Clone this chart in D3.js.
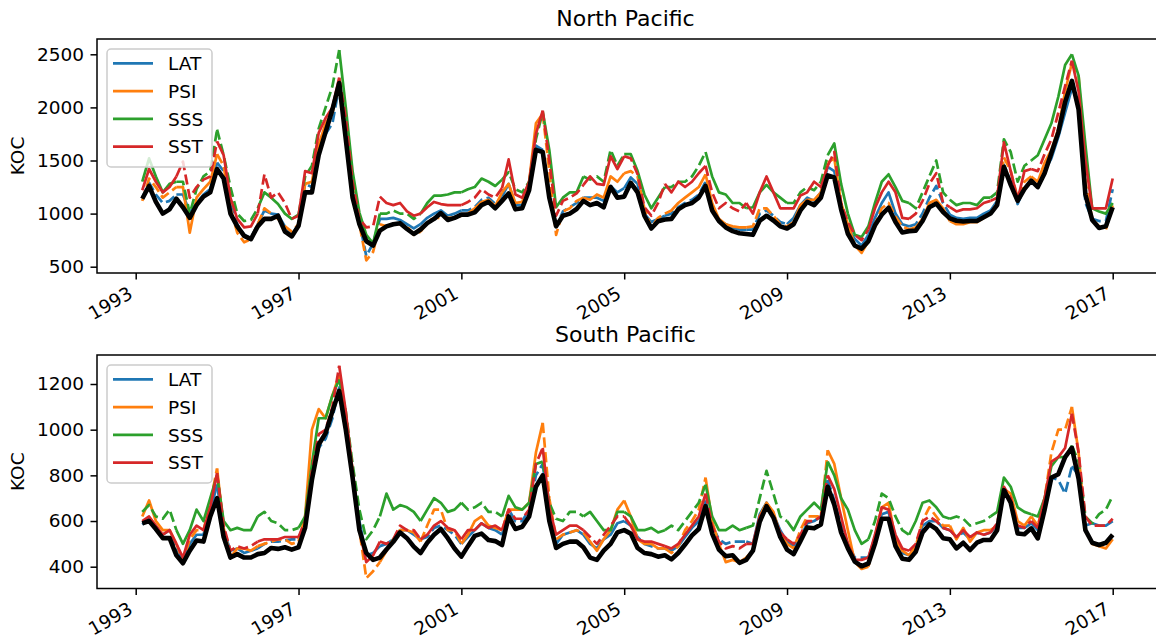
<!DOCTYPE html>
<html>
<head>
<meta charset="utf-8">
<script src="https://cdn.jsdelivr.net/npm/d3@7"></script>
<style>
  body { margin: 0; background: #fff; }
  svg { display: block; font-family: "DejaVu Sans", sans-serif; }
</style>
</head>
<body>
<svg id="chart" width="1156" height="641"></svg>
<script>
// bimonthly samples, Mar 1993 .. Jan 2017 (144 points)
const dates = d3.timeMonth.every(2).range(new Date(1993, 2, 1), new Date(2017, 0, 2));

const yearTicks = [1993, 1997, 2001, 2005, 2009, 2013, 2017];
const northTicks = [500, 1000, 1500, 2000, 2500];
const southTicks = [400, 600, 800, 1000, 1200];
const seriesNames = ['LAT', 'PSI', 'SSS', 'SST'];
const seriesColors = ['#1f77b4', '#ff7f0e', '#2ca02c', '#d62728'];

// North Pacific
const northKOC = [
  1140,1260,1110,1000,1040,1140,1060,960,1080,1160,1200,1420,
  1330,1000,880,790,760,880,950,950,980,830,785,886,
  1200,1200,1550,1770,1980,2230,1700,1150,900,740,700,840,
  880,900,910,855,808,850,910,950,1005,940,960,990,
  990,1012,1080,1110,1050,1120,1190,1040,1050,1220,1600,1580,
  1150,880,980,1000,1043,1120,1080,1100,1060,1250,1150,1160,
  1290,1200,980,860,928,945,950,1040,1080,1100,1150,1260,
  1030,930,870,835,815,808,800,933,980,935,880,860,
  900,1030,1110,1080,1150,1360,1340,1040,810,698,670,740,
  890,990,1055,920,823,835,840,930,1060,1095,1015,955,
  933,925,930,930,965,1000,1080,1440,1270,1120,1230,1310,
  1250,1380,1570,1765,2050,2250,1980,1180,940,865,880,1060
];
const northLAT = [
  1150,1290,1180,1100,1120,1180,1180,1010,1100,1180,1230,1480,
  1400,1080,900,800,770,900,1030,1000,990,880,800,900,
  1280,1250,1600,1750,1850,2200,1750,1200,920,600,720,950,
  950,960,940,900,860,900,960,1000,1030,980,1000,1030,
  1030,1060,1130,1150,1090,1160,1280,1080,1080,1240,1640,1600,
  1180,880,1020,1060,1100,1150,1150,1150,1120,1260,1200,1240,
  1340,1280,1000,920,950,980,1000,1060,1100,1130,1180,1300,
  1060,930,900,870,850,850,850,1000,1030,980,920,900,
  960,1080,1150,1120,1200,1440,1400,1080,860,760,700,800,
  960,1100,1200,1000,900,880,900,1000,1150,1260,1100,990,
  960,950,960,960,1000,1030,1120,1460,1300,1090,1240,1300,
  1260,1400,1520,1720,1950,2180,2050,1100,950,930,930,1230
];
const northPSI = [
  1120,1330,1250,1150,1200,1250,1250,820,1150,1230,1300,1560,
  1450,1050,820,730,760,900,1050,1000,950,880,830,900,
  1280,1300,1650,1850,1950,2250,1800,1250,900,560,640,900,
  880,900,900,880,800,830,920,960,960,960,960,980,
  1000,1050,1110,1130,1070,1200,1280,1100,1110,1300,1850,1940,
  1400,800,1020,1050,1120,1150,1130,1180,1150,1350,1300,1380,
  1400,1350,1050,870,960,1000,1030,1100,1150,1200,1250,1370,
  1100,950,900,880,870,870,880,1050,1050,980,900,880,
  920,1080,1130,1130,1200,1480,1520,1100,900,700,630,740,
  900,1050,1100,970,880,850,870,950,1100,1130,1050,930,
  900,900,920,920,960,1000,1100,1530,1400,1150,1300,1350,
  1300,1480,1600,1800,2150,2420,2300,1300,950,880,850,1080
];
const northSSS = [
  1300,1520,1350,1200,1280,1300,1300,1000,1230,1350,1400,1790,
  1550,1250,1000,930,940,1050,1200,1150,1090,1000,950,990,
  1350,1450,1800,2000,2200,2540,2000,1400,1010,800,720,1000,
  1000,1030,1000,1000,950,1000,1100,1170,1170,1180,1200,1200,
  1230,1250,1330,1300,1260,1320,1390,1230,1200,1300,1700,1960,
  1600,1060,1150,1200,1200,1350,1320,1350,1300,1600,1450,1560,
  1560,1400,1180,1050,1150,1250,1250,1300,1300,1350,1450,1580,
  1350,1200,1180,1100,1100,1050,1060,1200,1270,1200,1150,1100,
  1100,1200,1250,1220,1300,1550,1660,1280,1000,800,780,880,
  1100,1300,1370,1250,1120,1100,1050,1200,1350,1500,1200,1130,
  1080,1100,1100,1080,1150,1150,1200,1700,1580,1300,1450,1500,
  1550,1700,1850,2100,2400,2500,2300,1650,1050,1020,1000,1100
];
const northSST = [
  1220,1420,1300,1200,1250,1350,1490,1150,1250,1320,1350,1680,
  1550,1150,950,870,880,1000,1370,1150,1200,1100,950,980,
  1400,1380,1760,1900,2000,2280,1900,1300,950,870,880,1160,
  1100,1080,1100,1020,980,1000,1060,1110,1090,1080,1080,1080,
  1110,1150,1230,1180,1150,1240,1510,1180,1150,1300,1750,1970,
  1500,980,1120,1150,1190,1270,1350,1280,1270,1540,1420,1540,
  1520,1370,1060,980,1100,1280,1200,1300,1250,1300,1380,1450,
  1200,1050,1100,1050,1020,1100,1000,1200,1350,1200,1050,1050,
  1050,1170,1200,1300,1250,1450,1580,1100,920,800,750,850,
  1050,1200,1300,1200,960,950,1000,1120,1280,1380,1100,1060,
  1020,1040,1040,1050,1100,1120,1150,1670,1400,1130,1400,1420,
  1400,1560,1700,1950,2200,2440,2150,1500,1050,1050,1050,1330
];

// South Pacific
const southKOC = [
  590,600,565,525,525,450,415,470,515,510,620,700,
  530,440,455,440,440,455,460,482,478,485,475,485,
  570,780,935,985,1080,1170,1000,790,560,460,430,440,
  475,509,550,525,488,460,505,540,565,525,480,444,
  490,535,545,517,512,495,620,565,575,620,750,800,
  600,482,500,510,510,485,440,430,470,500,550,560,
  545,482,460,455,444,450,432,460,497,537,565,665,
  545,475,446,450,417,430,470,597,665,615,530,475,
  455,512,572,568,585,750,672,550,480,422,402,414,
  500,610,610,490,435,430,465,550,585,565,525,520,
  480,505,473,505,517,517,560,735,680,545,542,568,
  524,650,790,805,880,920,785,560,505,495,505,540
];
const southLAT = [
  585,610,560,540,560,480,430,500,540,540,640,760,
  560,470,480,460,470,480,500,510,510,515,520,520,
  600,800,920,960,1050,1190,1050,800,600,450,460,490,
  500,520,560,560,540,520,530,570,580,560,540,500,
  530,560,590,570,560,540,650,600,600,650,800,850,
  620,500,540,550,560,540,500,480,520,540,590,600,
  580,530,500,490,480,480,470,490,530,570,600,690,
  580,520,500,510,510,510,500,630,680,630,560,510,
  490,530,590,600,620,780,690,580,500,440,440,440,
  530,630,640,520,460,450,480,580,600,600,570,560,
  530,550,520,550,540,550,580,730,700,570,570,590,
  560,680,790,780,720,840,800,580,590,580,580,600
];
const southPSI = [
  620,690,600,560,560,500,425,520,560,560,680,830,
  570,440,480,480,470,490,500,510,520,520,500,510,
  620,1000,1090,1050,1150,1240,1050,820,560,350,380,420,
  470,520,560,560,550,510,580,650,650,560,560,500,
  540,600,620,580,570,560,650,650,650,680,900,1030,
  700,520,540,550,560,550,510,470,520,560,650,690,
  620,520,500,500,480,480,460,490,560,600,650,790,
  600,500,420,430,420,440,470,620,680,640,540,500,
  480,560,620,620,620,910,850,700,560,420,390,400,
  530,660,680,520,470,450,490,600,660,620,580,580,
  520,570,510,550,560,560,580,740,720,600,580,620,
  580,700,900,1000,1000,1100,900,560,500,490,480,520
];
const southSSS = [
  640,670,620,610,650,560,500,560,650,600,700,800,
  600,560,570,560,560,620,640,600,590,560,560,570,
  620,850,1050,1050,1150,1220,1080,850,650,520,560,620,
  720,650,670,660,640,600,650,700,680,640,650,680,
  650,660,680,640,640,620,710,660,650,680,850,860,
  680,610,600,640,640,620,640,600,560,560,640,640,
  620,560,560,570,550,560,580,560,600,640,680,760,
  620,560,560,580,560,570,580,700,820,720,620,600,
  560,620,650,680,650,860,800,700,650,560,500,520,
  600,720,700,620,560,540,600,680,690,660,620,610,
  620,610,580,590,600,620,640,790,750,660,640,630,
  620,700,840,880,880,930,860,620,590,630,650,710
];
const southSST = [
  600,620,580,540,560,500,440,540,580,560,660,810,
  580,470,490,480,490,510,520,520,520,530,530,530,
  600,820,980,1000,1100,1280,1080,820,560,420,450,510,
  500,520,580,560,560,520,540,580,600,570,560,520,
  560,560,590,570,580,560,650,610,610,650,850,920,
  660,540,560,580,580,560,530,500,540,580,620,620,
  580,520,510,510,500,490,480,500,540,580,620,720,
  580,510,480,490,480,500,500,620,660,620,550,520,
  500,540,600,600,620,800,740,620,500,430,430,440,
  540,660,650,540,480,470,500,600,620,600,570,560,
  530,560,530,550,540,550,590,750,700,580,570,600,
  570,700,860,880,920,1070,900,620,580,580,580,610
];

// years drawn dashed for each model
const northDashLAT = [1993, 1995, 1997, 1998, 2001, 2003, 2006, 2008, 2012, 2014, 2016];
const northDashPSI = [1993, 1995, 1996, 1998, 1999, 2000, 2003, 2005, 2008, 2011, 2014, 2016];
const northDashSSS = [1994, 1995, 1997, 1999, 2002, 2004, 2006, 2009, 2012, 2014];
const northDashSST = [1994, 1996, 1998, 2001, 2003, 2005, 2007, 2010, 2012, 2015];
const southDashLAT = [1993, 1996, 1997, 2000, 2002, 2005, 2007, 2010, 2013, 2015];
const southDashPSI = [1994, 1996, 1998, 2000, 2003, 2006, 2009, 2012, 2015];
const southDashSSS = [1993, 1996, 1998, 2001, 2003, 2006, 2008, 2011, 2013, 2016];
const southDashSST = [1995, 1997, 1999, 2002, 2004, 2007, 2009, 2012, 2014, 2016];

const svg = d3.select('#chart');
const frameLeft = 97;
const frameWidth = 1065; // right edge falls just outside the picture

const x = d3.scaleTime()
  .domain([new Date(1993, 0, 1), new Date(2017, 0, 1)])
  .range([135.7, 1112.7]);

function drawPanel(p) {
  const y = d3.scaleLinear().domain(p.tickDomain).range(p.tickRange);
  const g = svg.append('g');

  // title
  g.append('text')
    .attr('x', frameLeft + frameWidth / 2 - 4)
    .attr('y', p.top - 13)
    .attr('text-anchor', 'middle')
    .attr('font-size', '22px')
    .attr('fill', '#000')
    .text(p.title);

  // y label
  g.append('text')
    .attr('transform', `translate(24,${(p.top + p.bottom) / 2}) rotate(-90)`)
    .attr('text-anchor', 'middle')
    .attr('font-size', '18.5px')
    .text('KOC');

  // lines
  const line = d3.line()
    .x(d => x(dates[d.i]))
    .y(d => y(d.v));

  const yearsPresent = Array.from(new Set(dates.map(d => d.getFullYear())));
  const firstIndex = yr => dates.findIndex(d => d.getFullYear() === yr);

  p.series.forEach((vals, si) => {
    const pts = vals.map((v, i) => ({ i: i, v: v }));
    yearsPresent.forEach((yr, yi) => {
      const a = firstIndex(yr);
      const b = yi + 1 < yearsPresent.length ? firstIndex(yearsPresent[yi + 1]) : pts.length - 1;
      if (b <= a) return;
      const seg = pts.slice(a, b + 1);
      const path = g.append('path')
        .datum(seg)
        .attr('fill', 'none')
        .attr('stroke', seriesColors[si])
        .attr('stroke-width', 2.7)
        .attr('stroke-linejoin', 'round')
        .attr('d', line);
      if (p.dashed[si].includes(yr)) path.attr('stroke-dasharray', '10.3,4.4');
    });
  });

  // observed KOC on top
  g.append('path')
    .datum(p.koc.map((v, i) => ({ i: i, v: v })))
    .attr('fill', 'none')
    .attr('stroke', '#000')
    .attr('stroke-width', 4.6)
    .attr('stroke-linejoin', 'round')
    .attr('d', line);

  // frame
  g.append('rect')
    .attr('x', frameLeft)
    .attr('y', p.top)
    .attr('width', frameWidth)
    .attr('height', p.bottom - p.top)
    .attr('fill', 'none')
    .attr('stroke', '#000')
    .attr('stroke-width', 1.5);

  // x axis, labels rotated 30 degrees
  const xAxis = g.append('g')
    .attr('transform', `translate(0,${p.bottom})`)
    .call(d3.axisBottom(x)
      .tickValues(yearTicks.map(yr => new Date(yr, 0, 1)))
      .tickFormat(d3.timeFormat('%Y'))
      .tickSize(6.5));
  xAxis.select('.domain').remove();
  xAxis.selectAll('line').attr('stroke', '#000').attr('stroke-width', 1.5);
  xAxis.selectAll('text')
    .attr('font-family', '"DejaVu Sans", sans-serif')
    .attr('font-size', '18.5px')
    .attr('fill', '#000')
    .attr('text-anchor', 'end')
    .attr('x', -2.2)
    .attr('y', 24)
    .attr('dy', null)
    .attr('transform', 'rotate(-30,-2.2,24)');

  // y axis
  const yAxis = g.append('g')
    .attr('transform', `translate(${frameLeft},0)`)
    .call(d3.axisLeft(y)
      .tickValues(p.ticks)
      .tickFormat(d3.format('d'))
      .tickSize(6.5)
      .tickPadding(6.5));
  yAxis.select('.domain').remove();
  yAxis.selectAll('line').attr('stroke', '#000').attr('stroke-width', 1.5);
  yAxis.selectAll('text')
    .attr('font-family', '"DejaVu Sans", sans-serif')
    .attr('font-size', '18.5px')
    .attr('fill', '#000');

  // legend
  const lg = g.append('g').attr('transform', `translate(107,${p.top + 10})`);
  lg.append('rect')
    .attr('width', 105)
    .attr('height', 118)
    .attr('rx', 4)
    .attr('fill', '#fff')
    .attr('fill-opacity', 0.8)
    .attr('stroke', '#cccccc')
    .attr('stroke-width', 1.5);
  seriesNames.forEach((name, i) => {
    const ly = 14.3 + i * 27.8;
    lg.append('line')
      .attr('x1', 6).attr('x2', 46)
      .attr('y1', ly).attr('y2', ly)
      .attr('stroke', seriesColors[i])
      .attr('stroke-width', 2.7);
    lg.append('text')
      .attr('x', 61)
      .attr('y', ly)
      .attr('dy', '0.36em')
      .attr('font-size', '18.5px')
      .attr('fill', '#000')
      .text(name);
  });
}

drawPanel({
  title: 'North Pacific',
  top: 39, bottom: 273,
  tickDomain: [500, 2500], tickRange: [266.7, 54.3],
  ticks: northTicks,
  koc: northKOC,
  series: [northLAT, northPSI, northSSS, northSST],
  dashed: [northDashLAT, northDashPSI, northDashSSS, northDashSST]
});

drawPanel({
  title: 'South Pacific',
  top: 355, bottom: 588.5,
  tickDomain: [400, 1200], tickRange: [566.7, 384],
  ticks: southTicks,
  koc: southKOC,
  series: [southLAT, southPSI, southSSS, southSST],
  dashed: [southDashLAT, southDashPSI, southDashSSS, southDashSST]
});
</script>
</body>
</html>
